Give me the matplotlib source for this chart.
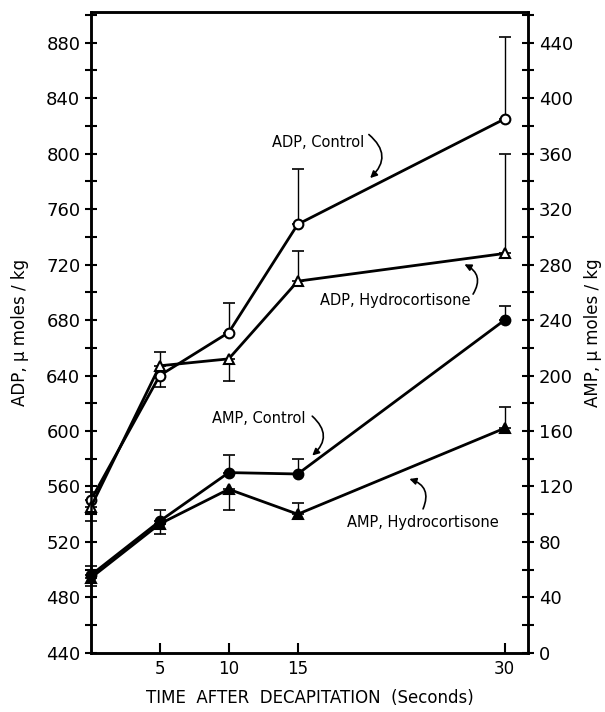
import matplotlib
matplotlib.use("Agg")
import matplotlib.pyplot as plt
from matplotlib.ticker import MultipleLocator

# time after decapitation (s)
t = [0, 5, 10, 15, 30]

# ADP, umoles/kg (left axis)
adp_ctrl = [550, 640, 671, 749, 825]
adp_ctrl_up = [6, 0, 21, 40, 59]
adp_ctrl_dn = [0, 8, 0, 0, 0]
adp_hc = [545, 647, 652, 708, 728]
adp_hc_up = [0, 10, 0, 22, 72]
adp_hc_dn = [10, 0, 16, 0, 0]

# AMP, umoles/kg (right axis)
amp_ctrl = [56, 95, 130, 129, 240]
amp_ctrl_up = [7, 8, 13, 11, 10]
amp_ctrl_dn = [0, 0, 0, 0, 0]
amp_hc = [54, 93, 118, 100, 162]
amp_hc_up = [0, 0, 0, 8, 15]
amp_hc_dn = [6, 7, 15, 0, 0]

yt_left = list(range(440, 881, 40))
yt_right = list(range(0, 441, 40))
xt = [5, 10, 15, 30]

fig = plt.figure(figsize=(6.05, 7.12), dpi=100)
ax = fig.add_axes([0.150, 0.083, 0.723, 0.900])
ax2 = ax.twinx()

ax.set_xlim(0, 31.7)
ax.set_ylim(440, 902)
ax2.set_ylim(0, 462)

def series(a, y, up, dn, mk, fill):
    a.errorbar(t, y, yerr=[dn, up], fmt="none", ecolor="k", elinewidth=1.0,
               capsize=4, capthick=1.2, clip_on=False, zorder=2)
    a.plot(t, y, color="k", lw=2.0, marker=mk, ms=7,
           mfc="k" if fill else "white", mec="k", mew=1.5,
           clip_on=False, zorder=3)

series(ax, adp_ctrl, adp_ctrl_up, adp_ctrl_dn, "o", False)
series(ax, adp_hc, adp_hc_up, adp_hc_dn, "^", False)
series(ax2, amp_ctrl, amp_ctrl_up, amp_ctrl_dn, "o", True)
series(ax2, amp_hc, amp_hc_up, amp_hc_dn, "^", True)

for s in ["left", "right", "top", "bottom"]:
    ax.spines[s].set_linewidth(1.8)
    ax2.spines[s].set_linewidth(1.8)

ax.set_xticks(xt)
ax.set_xticklabels([str(v) for v in xt], fontsize=12)
ax.tick_params(axis="x", direction="in", length=7, width=1.5, pad=5)
ax.set_yticks(yt_left)
ax.set_yticklabels([str(v) for v in yt_left], fontsize=13)
ax.yaxis.set_minor_locator(MultipleLocator(20))
ax.tick_params(axis="y", which="major", direction="inout", length=9, width=1.5, pad=3)
ax.tick_params(axis="y", which="minor", direction="inout", length=8, width=1.5)
ax2.set_yticks(yt_right)
ax2.set_yticklabels([str(v) for v in yt_right], fontsize=13)
ax2.yaxis.set_minor_locator(MultipleLocator(20))
ax2.tick_params(axis="y", which="major", direction="inout", length=9, width=1.5, pad=3)
ax2.tick_params(axis="y", which="minor", direction="inout", length=8, width=1.5)

ax.set_xlabel("TIME  AFTER  DECAPITATION  (Seconds)", fontsize=12, labelpad=8)
ax.set_ylabel("ADP, \u03bc moles / kg", fontsize=12, labelpad=12)
ax2.set_ylabel("AMP, \u03bc moles / kg", fontsize=12, rotation=90, labelpad=8)

arrow = dict(arrowstyle="-|>", color="k", lw=1.2, mutation_scale=10)
ax.text(13.1, 808, "ADP, Control", fontsize=10.5, va="center")
ax.annotate("", xy=(20.1, 781), xytext=(20.0, 815),
            arrowprops=dict(arrow, connectionstyle="arc3,rad=-0.6"))
ax.text(16.6, 694, "ADP, Hydrocortisone", fontsize=10.5, va="center")
ax.annotate("", xy=(26.9, 721), xytext=(27.6, 697),
            arrowprops=dict(arrow, connectionstyle="arc3,rad=0.6"))
ax.text(8.8, 609, "AMP, Control", fontsize=10.5, va="center")
ax.annotate("", xy=(15.9, 581), xytext=(15.9, 612),
            arrowprops=dict(arrow, connectionstyle="arc3,rad=-0.6"))
ax.text(18.6, 534, "AMP, Hydrocortisone", fontsize=10.5, va="center")
ax.annotate("", xy=(22.9, 566), xytext=(24.0, 542),
            arrowprops=dict(arrow, connectionstyle="arc3,rad=0.6"))

fig.savefig("out.png", dpi=100)
